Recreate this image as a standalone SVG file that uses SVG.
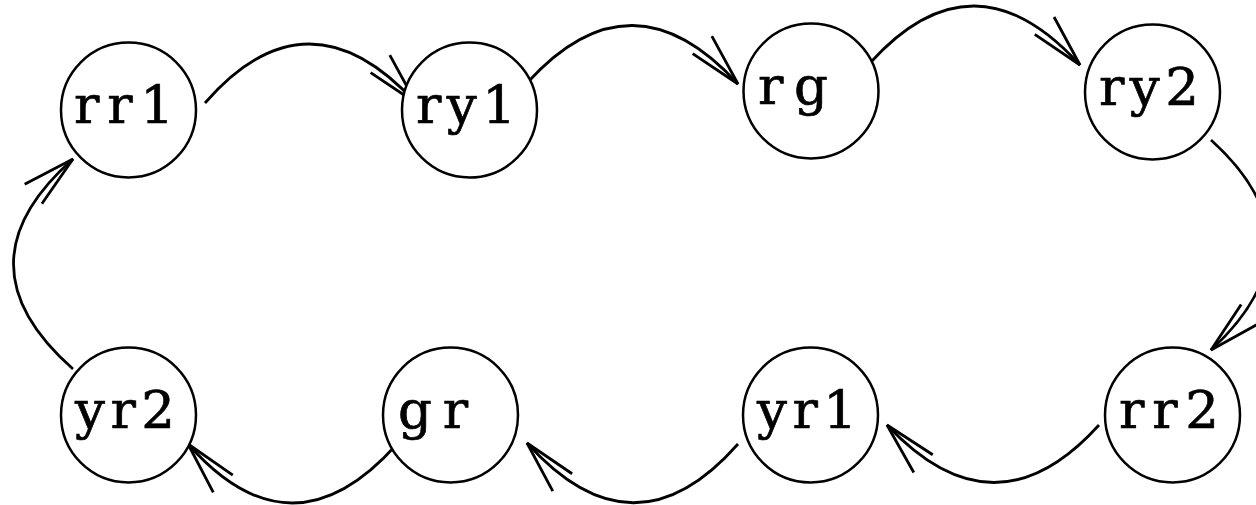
<svg xmlns="http://www.w3.org/2000/svg" width="1256" height="505" viewBox="0 0 1256 505">
  <style>
    .state circle { fill: #ffffff; stroke: #000000; stroke-width: 2.5; }
    .state text { font-family: "DejaVu Serif", "Liberation Serif", serif; font-size: 53px; fill: #000000; stroke: #000000; stroke-width: 0.7; text-anchor: middle; }
    .edge { fill: none; stroke: #000000; stroke-width: 2.8; marker-end: url(#barbs); }
  </style>
  <defs>
    <!-- open arrowhead: two long barbs meeting at the tip -->
    <marker id="barbs" markerUnits="userSpaceOnUse" orient="auto" refX="0" refY="0" markerWidth="60" markerHeight="30" overflow="visible">
      <path d="M -53,-13 L 0,0 L -53,13" fill="none" stroke="#000000" stroke-width="2.8"/>
    </marker>
  </defs>

  <g id="connectors">
    <path class="edge" d="M 205,103 Q 308,-15 416,103"/>
    <path class="edge" d="M 528,82 Q 632,-32 738,84"/>
    <path class="edge" d="M 870,63 Q 974,-52 1080,65"/>
    <path class="edge" d="M 1211,140 Q 1326,244 1211,350"/>
    <path class="edge" d="M 1099,425 Q 995,540 887,425"/>
    <path class="edge" d="M 738,444 Q 634,562 527,443"/>
    <path class="edge" d="M 397,444 Q 292,562 188,444"/>
    <path class="edge" d="M 73,369 Q -46,264 73,159"/>
  </g>

  <g id="rr1" class="state"><circle cx="128.5" cy="110" r="67.5"/><text x="124" y="123" textLength="100" lengthAdjust="spacing">rr1</text></g>
  <g id="ry1" class="state"><circle cx="469.5" cy="110" r="67.5"/><text x="466" y="123" textLength="100" lengthAdjust="spacing">ry1</text></g>
  <g id="rg" class="state"><circle cx="811" cy="91" r="67.5"/><text x="793" y="104" textLength="70" lengthAdjust="spacing">rg</text></g>
  <g id="ry2" class="state"><circle cx="1152.5" cy="92" r="67.5"/><text x="1149" y="105" textLength="100" lengthAdjust="spacing">ry2</text></g>
  <g id="yr2" class="state"><circle cx="128.5" cy="415" r="67.5"/><text x="125" y="428" textLength="100" lengthAdjust="spacing">yr2</text></g>
  <g id="gr" class="state"><circle cx="450.5" cy="415" r="67.5"/><text x="433" y="428" textLength="70" lengthAdjust="spacing">gr</text></g>
  <g id="yr1" class="state"><circle cx="810.5" cy="415" r="67.5"/><text x="807" y="428" textLength="100" lengthAdjust="spacing">yr1</text></g>
  <g id="rr2" class="state"><circle cx="1172.5" cy="415" r="67.5"/><text x="1169" y="428" textLength="100" lengthAdjust="spacing">rr2</text></g>
</svg>
